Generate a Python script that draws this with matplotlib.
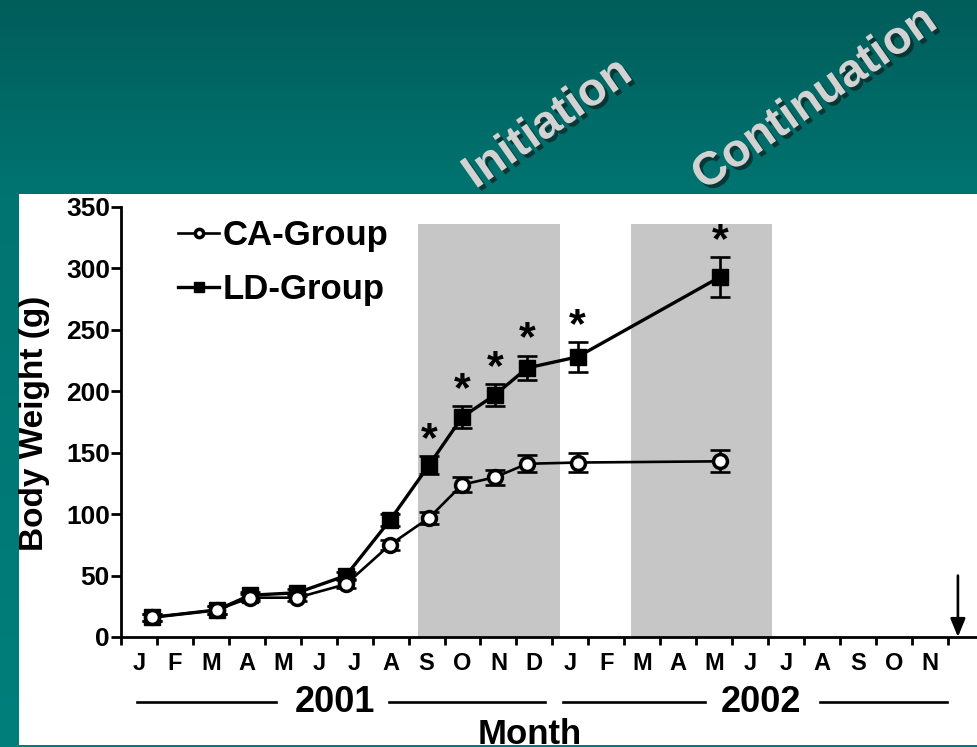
import numpy as np
import matplotlib
matplotlib.use("Agg")
import matplotlib.pyplot as plt
from matplotlib.patches import Rectangle
from matplotlib import patheffects as pe
import matplotlib.colors as mcolors

# ---------------- data ----------------
months = ["J", "F", "M", "A", "M", "J", "J", "A", "S", "O", "N", "D",
          "J", "F", "M", "A", "M", "J", "J", "A", "S", "O", "N"]
years = ["2001", "2002"]
# measurement times in months since 1 Jan 2001
t = [0.86, 2.67, 3.59, 4.9, 6.26, 7.48, 8.57, 9.49, 10.4, 11.3, 12.7, 16.66]
ca_mean = [16, 22, 32, 32, 43, 75, 97, 124, 130, 141, 142, 143]
ca_err = [3, 3, 3, 3, 3, 4, 5, 6, 6, 7, 8, 9]
ld_mean = [16, 22, 34, 36, 50, 95, 140, 179, 197, 219, 228, 293]
ld_err = [3, 3, 3, 3, 3, 5, 7, 9, 9, 10, 12, 16]
significant = [False] * 6 + [True] * 6
phases = ["Initiation", "Continuation"]
phase_spans = [(8.26, 12.21), (14.2, 18.12)]
phase_top = 336
arrow_month = 23.28

# ---------------- figure ----------------
W, H = 978, 747
fig = plt.figure(figsize=(W / 100, H / 100), dpi=100)
FONT = "Liberation Sans"
plt.rcParams["font.family"] = [FONT, "DejaVu Sans"]
plt.rcParams["font.weight"] = "bold"

# background gradient (teal)
bg = fig.add_axes([0, 0, 1, 1], zorder=-5)
bg.set_axis_off()
yy_px = np.arange(H)
stops_px = [0, 194, H]
stops_c = [mcolors.to_rgb("#005d5a"), mcolors.to_rgb("#007471"), mcolors.to_rgb("#007f7b")]
img = np.stack([np.interp(yy_px, stops_px, [c[k] for c in stops_c]) for k in range(3)], axis=-1)
img = np.repeat(img[:, None, :], 4, axis=1)
bg.imshow(img, aspect="auto", extent=[0, 1, 0, 1])
bg.set_xlim(0, 1); bg.set_ylim(0, 1)
# white panel
bg.add_patch(Rectangle((19 / W, 2 / H), 1 - 19 / W, (H - 194 - 2) / H,
                       facecolor="white", edgecolor="none", zorder=2))

# phase labels
for txt, (cx, cy) in zip(phases, [(548, 124), (815, 99)]):
    fig.text(cx / W, 1 - cy / H, txt, rotation=35, ha="center", va="center",
             rotation_mode="anchor", fontsize=33.5, fontweight="bold",
             color="#d2d2d2", family=FONT,
             path_effects=[pe.SimplePatchShadow(offset=(2.5, -2.5), shadow_rgbFace="#0a2a2a", alpha=0.8),
                           pe.Normal()])

# ---------------- main axes ----------------
x0, x_end = 121, 978
y0, y350 = 637, 207
ax = fig.add_axes([x0 / W, (H - y0) / H, (x_end - x0) / W, (y0 - y350) / H], zorder=1)
ax.patch.set_alpha(0)
mpx = 35.95  # pixels per month
ax.set_xlim(0, (x_end - x0) / mpx)
ax.set_ylim(0, 350)

for (a, b) in phase_spans:
    ax.add_patch(Rectangle((a, 0), b - a, phase_top, facecolor="#c6c6c6",
                           edgecolor="none", zorder=0))

lw = 2.4
# LD group (drawn first, CA on top)
ax.errorbar(t, ld_mean, yerr=ld_err, fmt="none", ecolor="black",
            elinewidth=1.9, capsize=7.5, capthick=1.9, zorder=3)
ax.plot(t, ld_mean, "-s", color="black", lw=lw, ms=11, mfc="black",
        mec="black", label="LD-Group", zorder=4)
ax.errorbar(t, ca_mean, yerr=ca_err, fmt="none", ecolor="black",
            elinewidth=1.9, capsize=7.5, capthick=1.9, zorder=5)
ax.plot(t, ca_mean, "-o", color="black", lw=1.9, ms=10, mfc="white",
        mec="black", mew=2.5, label="CA-Group", zorder=6)

for xi, m, e, s in zip(t, ld_mean, ld_err, significant):
    if s:
        ax.text(xi, m + e - 3, "*", ha="center", va="bottom", fontsize=31,
                fontweight="bold", zorder=7)

# arrow at end
ax.annotate("", xy=(arrow_month, 0), xytext=(arrow_month, 50),
            arrowprops=dict(arrowstyle="-|>,head_width=0.45,head_length=1.1",
                            color="black", lw=1.9, shrinkA=0, shrinkB=0),
            annotation_clip=False, zorder=8)

# spines and ticks
for s in ["top", "right"]:
    ax.spines[s].set_visible(False)
for s in ["left", "bottom"]:
    ax.spines[s].set_linewidth(2.0)
ax.set_yticks(np.arange(0, 351, 50))
ax.tick_params(axis="y", direction="out", length=7, width=2.0, labelsize=19,
               pad=1)
for lab in ax.get_yticklabels():
    lab.set_fontweight("bold")
ax.set_xticks(np.arange(0, 24), labels=[""] * 24)
ax.tick_params(axis="x", which="major", direction="out", length=6, width=2.0)
ax.set_xticks(np.arange(len(months)) + 0.5, labels=months, minor=True)
ax.tick_params(axis="x", which="minor", length=0, labelsize=17, pad=11)
for lab in ax.get_xticklabels(minor=True):
    lab.set_fontweight("bold")

# legend (CA first)
h, l = ax.get_legend_handles_labels()
leg = ax.legend(h[::-1], l[::-1], loc="upper left", bbox_to_anchor=(0.05, 1.005),
                frameon=False, fontsize=25, handlelength=1.2, handletextpad=0.1,
                labelspacing=0.62, markerscale=0.6, borderaxespad=0)
for tx in leg.get_texts():
    tx.set_fontweight("bold")

# year annotations below the axis
ytr = ax.get_xaxis_transform()
year_rows = [((0.45, 4.3), (7.45, 11.8), 5.95), ((12.3, 16.25), (19.45, 22.98), 17.8)]
for yr, (l1, l2, c) in zip(years, year_rows):
    yy = -(702 - y0) / (y0 - y350)
    for seg in (l1, l2):
        ax.plot(seg, [yy, yy], color="black", lw=1.9, transform=ytr, clip_on=False)
    ax.text(c, yy, yr, transform=ytr, ha="center", va="center", fontsize=26,
            fontweight="bold")

fig.text(35 / W, 1 - 423 / H, "Body Weight (g)", rotation=90, ha="center",
         va="center", fontsize=24, fontweight="bold")
fig.text(530 / W, 3 / H, "Month", ha="center", va="baseline", fontsize=25,
         fontweight="bold")

# bottom teal strip
fig.patches.append(Rectangle((0, 0), 1, 2 / H, transform=fig.transFigure,
                             facecolor="#007e7a", edgecolor="none", zorder=20))

fig.savefig("out.png", dpi=100)
